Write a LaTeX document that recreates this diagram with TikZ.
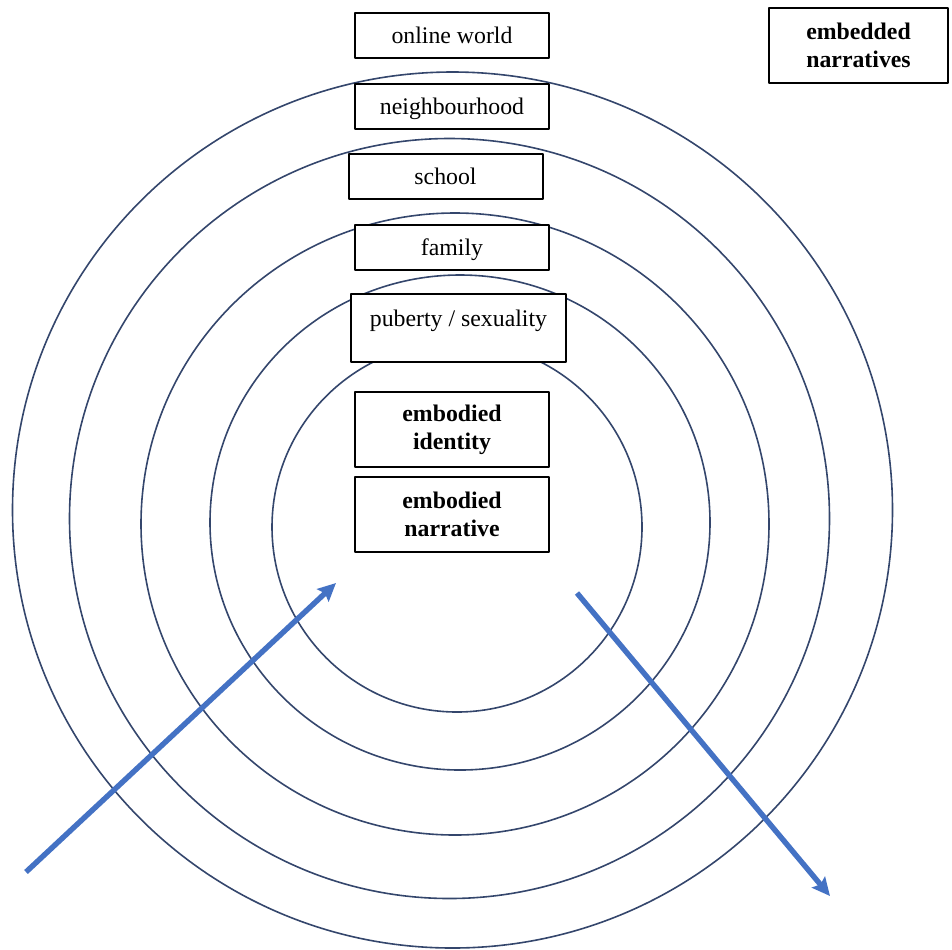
\documentclass[tikz,border=0pt]{standalone}
\usepackage{fontspec}
\setmainfont{Liberation Serif}
\usetikzlibrary{arrows.meta}
\definecolor{ringblue}{HTML}{34466C}
\definecolor{flowblue}{HTML}{4472C4}
\begin{document}
\begin{tikzpicture}[x=0.5pt,y=-0.5pt,line join=round,
	font=\fontsize{11.9}{14}\selectfont,
	>={Stealth[length=9pt,width=8.5pt,inset=1.5pt]},
	ring/.style={draw=ringblue,line width=0.8pt},
	box/.style={draw,fill=white,line width=1pt,inner sep=0pt,minimum width=97pt,minimum height=22.5pt,text height=10.5pt,text depth=2.5pt},
	bbox/.style={box,align=center,minimum height=37.5pt,text height=,text depth=,font=\fontsize{11.9}{14}\selectfont\bfseries},
	flow/.style={flowblue,line width=2.7pt,->}]
	\useasboundingbox (0,0) rectangle (952,949);
	% the rings
	\draw[ring] (452.5,510) ellipse [x radius=440,y radius=438];
	\draw[ring] (449.5,518.5) ellipse [x radius=380,y radius=380];
	\draw[ring] (455,524) ellipse [x radius=314,y radius=311];
	\draw[ring] (460,522.5) ellipse [x radius=250,y radius=247.5];
	\draw[ring] (457,527) ellipse [x radius=185,y radius=185];
	% the labels
	\node[box] (online) at (452,35.5) {online world};
	\node[box] (hood) at (452,106.5) {neighbourhood};
	\node[box] (school) at (445.5,176) {school};
	\node[box] (family) at (452,247) {family};
	\node[box,minimum width=107.5pt,text height=16pt,text depth=18pt] (puberty) at (458.5,328) {puberty / sexuality};
	\node[bbox] (identity) at (452,429.5) {embodied\\identity};
	\node[bbox] (narrative) at (452,514.5) {embodied\\narrative};
	\node[bbox,minimum width=89.5pt] (embedded) at (858.5,45.5) {embedded\\narratives};
	% in and out
	\coordinate (inS) at (26,872);
	\coordinate (inE) at (336,583);
	\coordinate (outS) at (577,593);
	\coordinate (outE) at (830,896);
	\draw[flow] (inS) -- (inE);
	\draw[flow] (outS) -- (outE);
\end{tikzpicture}
\end{document}
